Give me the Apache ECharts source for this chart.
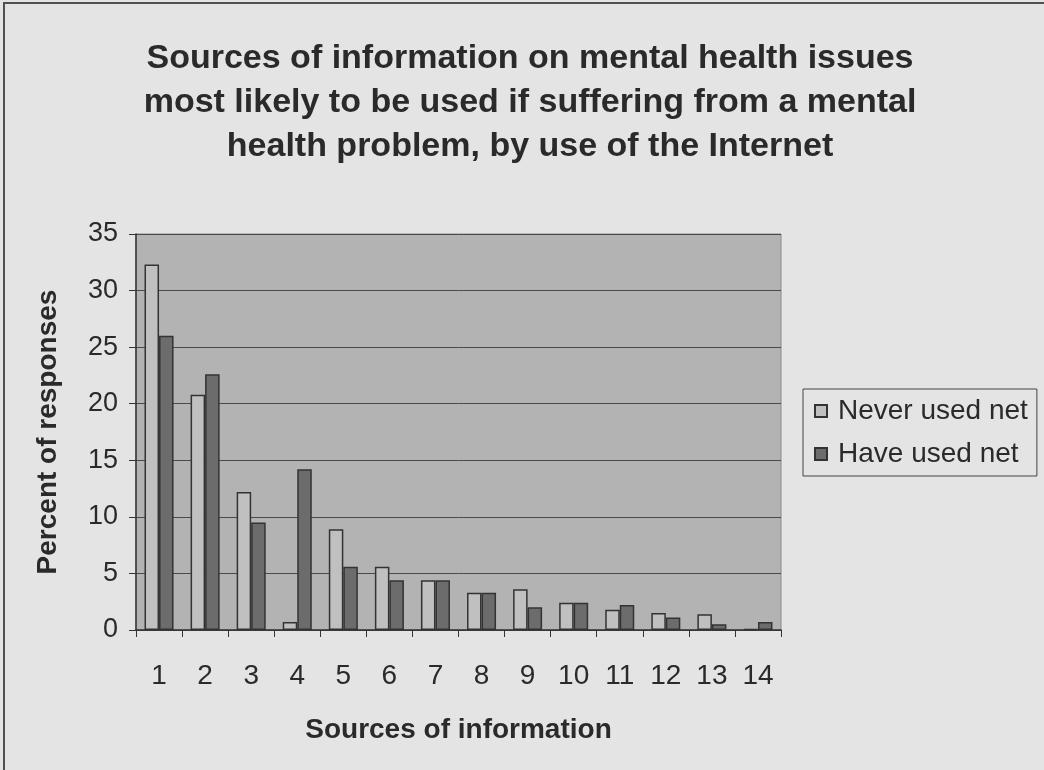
<!DOCTYPE html>
<html>
<head>
<meta charset="utf-8">
<script src="https://cdn.jsdelivr.net/npm/echarts@6/dist/echarts.min.js"></script>
<style>
  html, body { margin: 0; padding: 0; background: #e4e4e4; }
  #chart { width: 1044px; height: 770px; }
</style>
</head>
<body>
<div id="chart"></div>
<script>
// Source categories (1-14) and share of responses for each group
const categories = ['1','2','3','4','5','6','7','8','9','10','11','12','13','14'];
const neverUsedNet = [32.3, 20.8, 12.2, 0.7, 8.9, 5.6, 4.4, 3.3, 3.6, 2.4, 1.8, 1.5, 1.4, 0.1];
const haveUsedNet  = [26.0, 22.6, 9.5, 14.2, 5.6, 4.4, 4.4, 3.3, 2.0, 2.4, 2.2, 1.1, 0.5, 0.7];
const yTicks = [0, 5, 10, 15, 20, 25, 30, 35];

const FONT = 'Liberation Sans, Arial, sans-serif';
const TEXT = '#2a2a2a';

const chart = echarts.init(document.getElementById('chart'));
chart.setOption({
  backgroundColor: '#e4e4e4',
  animation: false,
  textStyle: { fontFamily: FONT, color: TEXT },
  title: {
    text: 'Sources of information on mental health issues\nmost likely to be used if suffering from a mental\nhealth problem, by use of the Internet',
    left: 525,
    textAlign: 'center',
    top: 32,
    textStyle: { fontFamily: FONT, fontSize: 34, fontWeight: 'bold', color: TEXT, lineHeight: 44 }
  },
  graphic: [{
    type: 'rect',
    shape: { x: 4, y: 3, width: 1100, height: 900 },
    style: { fill: 'none', stroke: '#505050', lineWidth: 2 },
    silent: true
  }],
  legend: {
    orient: 'vertical',
    left: 803,
    top: 389,
    padding: [8, 9, 8, 11],
    itemGap: 15,
    itemWidth: 12,
    itemHeight: 12,
    backgroundColor: '#e4e4e4',
    borderColor: '#444',
    borderWidth: 1,
    icon: 'rect',
    textStyle: { fontFamily: FONT, fontSize: 28, color: TEXT, padding: [0, 0, 0, 6] },
    data: ['Never used net', 'Have used net']
  },
  grid: {
    left: 136,
    right: 263,
    top: 234,
    bottom: 140,
    show: true,
    backgroundColor: '#b3b3b3',
    borderColor: '#8a8a8a',
    borderWidth: 1
  },
  xAxis: {
    type: 'category',
    data: categories,
    name: 'Sources of information',
    nameLocation: 'middle',
    nameGap: 86,
    nameTextStyle: { fontFamily: FONT, fontSize: 28, fontWeight: 'bold', color: TEXT },
    axisLine: { show: true, lineStyle: { color: '#333', width: 1.5 } },
    axisTick: { show: true, inside: false, length: 7, alignWithLabel: false, lineStyle: { color: '#333' } },
    axisLabel: { margin: 32, fontFamily: FONT, fontSize: 28, color: TEXT },
    splitLine: { show: false }
  },
  yAxis: {
    type: 'value',
    min: 0,
    max: 35,
    interval: 5,
    name: 'Percent of responses',
    nameLocation: 'middle',
    nameGap: 74,
    nameTextStyle: { fontFamily: FONT, fontSize: 28, fontWeight: 'bold', color: TEXT },
    axisLine: { show: true, lineStyle: { color: '#333', width: 1.5 } },
    axisTick: { show: true, inside: false, length: 7, lineStyle: { color: '#333' } },
    axisLabel: {
      margin: 18, fontFamily: FONT, fontSize: 27, color: TEXT,
      formatter: v => (yTicks.includes(v) ? String(v) : '')
    },
    splitLine: { show: true, lineStyle: { color: '#4a4a4a', width: 1 } }
  },
  series: [
    {
      name: 'Never used net',
      type: 'bar',
      data: neverUsedNet,
      barGap: '0%',
      barCategoryGap: '37%',
      itemStyle: { color: '#c0c0c0', borderColor: '#333', borderWidth: 1.5 }
    },
    {
      name: 'Have used net',
      type: 'bar',
      data: haveUsedNet,
      barGap: '0%',
      barCategoryGap: '37%',
      itemStyle: { color: '#6c6c6c', borderColor: '#333', borderWidth: 1.5 }
    }
  ]
});
</script>
</body>
</html>
